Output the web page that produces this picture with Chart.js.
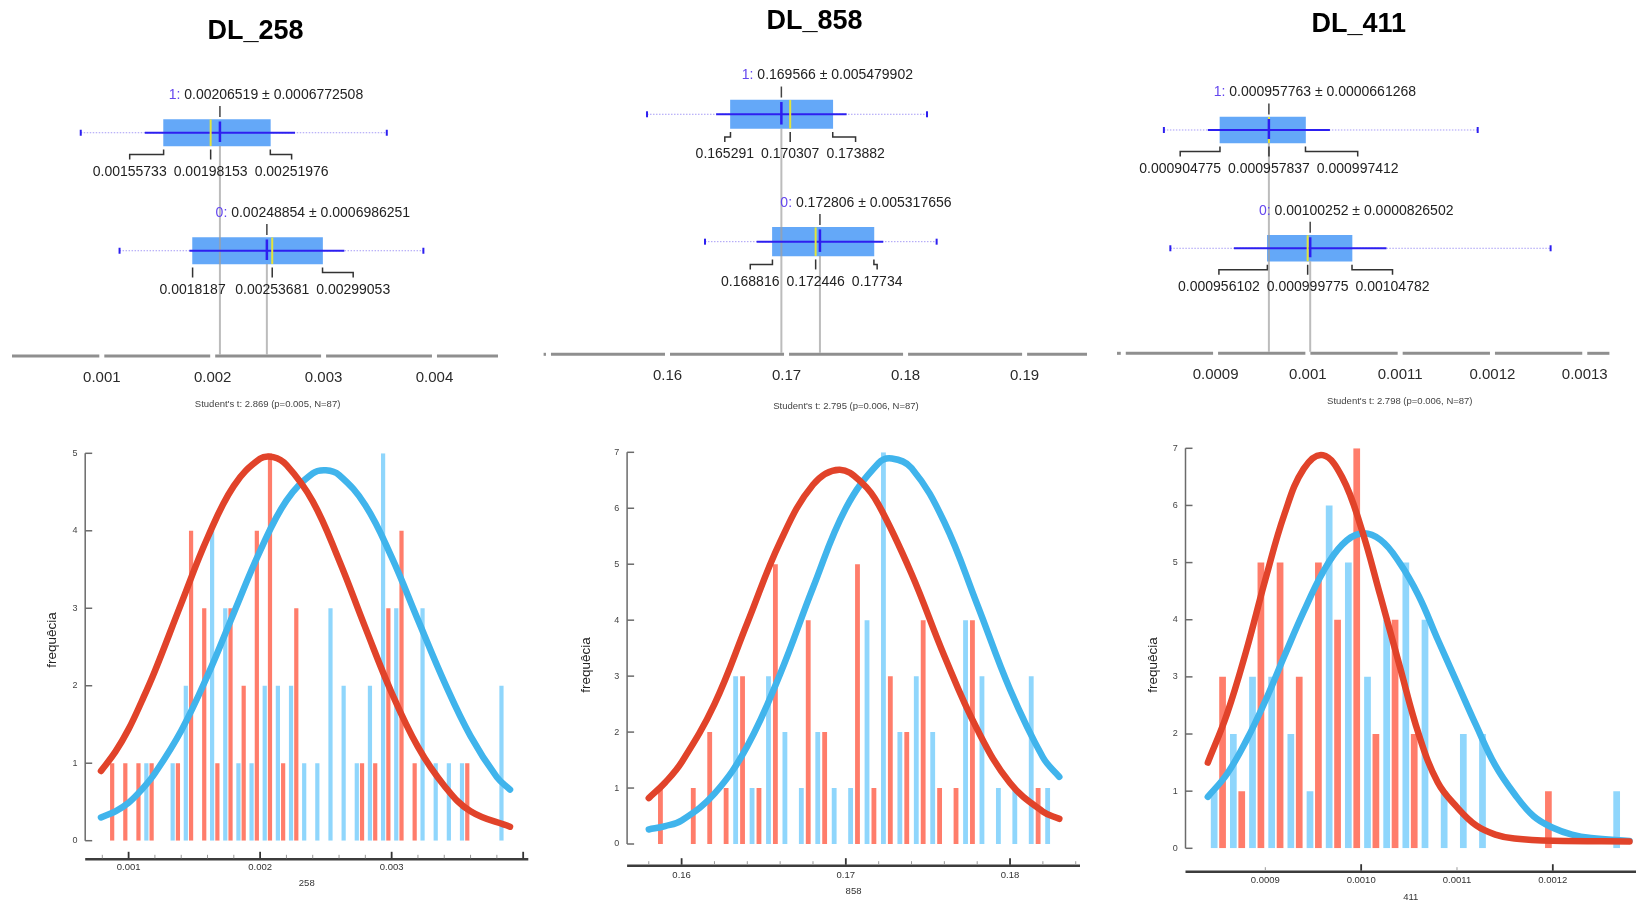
<!DOCTYPE html>
<html>
<head>
<meta charset="utf-8">
<title>DL_258 / DL_858 / DL_411</title>
<script src="https://cdn.jsdelivr.net/npm/chart.js@4.4.1/dist/chart.umd.min.js"></script>
<style>
  html, body { margin: 0; padding: 0; background: #fff; }
  #wrap { position: relative; width: 1636px; height: 905px; overflow: hidden; background: #fff; }
  #wrap canvas { position: absolute; }
</style>
</head>
<body>
<div id="wrap">
  <canvas id="box258" width="520" height="420" style="left:0px;top:0px"></canvas>
  <canvas id="box858" width="580" height="420" style="left:520px;top:0px"></canvas>
  <canvas id="box411" width="536" height="420" style="left:1100px;top:0px"></canvas>
  <canvas id="hist258" width="560" height="485" style="left:0px;top:420px"></canvas>
  <canvas id="hist858" width="550" height="485" style="left:560px;top:420px"></canvas>
  <canvas id="hist411" width="526" height="485" style="left:1110px;top:420px"></canvas>
</div>
<script>
/* eslint-disable no-undef */

// ---- data: box plots (group 1 first, then group 0) ----
const groups = ['1', '0'];

const dl258Mean = [0.00206519, 0.00248854];
const dl258Sd = [0.0006772508, 0.0006986251];
const dl258Q1 = [0.00155733, 0.0018187];
const dl258Median = [0.00198153, 0.00253681];
const dl258Q3 = [0.00251976, 0.00299053];
const dl258Min = [0.00081, 0.00116];
const dl258Max = [0.00357, 0.0039];
const dl258Ticks = [0.001, 0.002, 0.003, 0.004];
const dl258TickLabels = ['0.001', '0.002', '0.003', '0.004'];

const dl858Mean = [0.169566, 0.172806];
const dl858Sd = [0.005479902, 0.005317656];
const dl858Q1 = [0.165291, 0.168816];
const dl858Median = [0.170307, 0.172446];
const dl858Q3 = [0.173882, 0.17734];
const dl858Min = [0.15828, 0.16315];
const dl858Max = [0.1818, 0.18261];
const dl858Ticks = [0.15, 0.16, 0.17, 0.18, 0.19];
const dl858TickLabels = ['', '0.16', '0.17', '0.18', '0.19'];

const dl411Mean = [0.000957763, 0.00100252];
const dl411Sd = [0.0000661268, 0.0000826502];
const dl411Q1 = [0.000904775, 0.000956102];
const dl411Median = [0.000957837, 0.000999775];
const dl411Q3 = [0.000997412, 0.00104782];
const dl411Min = [0.000844, 0.000851];
const dl411Max = [0.001184, 0.001263];
const dl411Ticks = [0.0008, 0.0009, 0.001, 0.0011, 0.0012, 0.0013];
const dl411TickLabels = ['', '0.0009', '0.001', '0.0011', '0.0012', '0.0013'];

const tTests = [
  "Student's t: 2.869 (p=0.005, N=87)",
  "Student's t: 2.795 (p=0.006, N=87)",
  "Student's t: 2.798 (p=0.006, N=87)",
];

// ---- data: histograms (blue = group 0, red = group 1) ----
const hist258Bins = [0.000855, 0.000955, 0.001055, 0.001155, 0.001255, 0.001355, 0.001455, 0.001555,
  0.001655, 0.001755, 0.001855, 0.001955, 0.002055, 0.002155, 0.002255, 0.002355, 0.002455, 0.002555,
  0.002655, 0.002755, 0.002855, 0.002955, 0.003055, 0.003155, 0.003255, 0.003355, 0.003455, 0.003555,
  0.003655, 0.003755, 0.003855];
const hist258Blue = [0, 0, 0, 1, 0, 1, 2, 0, 4, 3, 1, 1, 2, 2, 2, 1, 1, 3, 2, 1, 2, 5, 3, 0, 3, 1, 1, 1, 0, 0, 2];
const hist258Red = [1, 1, 1, 1, 0, 1, 4, 3, 1, 3, 2, 4, 5, 1, 3, 0, 0, 0, 0, 1, 1, 3, 4, 1, 0, 0, 0, 1, 0, 0, 0];
const curve258RedX = [0.00079, 0.0009, 0.001, 0.0011, 0.0012, 0.0014, 0.0016, 0.0018, 0.002, 0.0021, 0.0022,
  0.0024, 0.0026, 0.0028, 0.003, 0.0032, 0.0034, 0.0036, 0.0039];
const curve258RedY = [0.9, 1.15, 1.44, 1.8, 2.19, 3.06, 3.91, 4.58, 4.93, 4.95, 4.85, 4.38, 3.62, 2.75, 1.91,
  1.21, 0.71, 0.38, 0.18];
const curve258BlueX = [0.00079, 0.0009, 0.001, 0.0011, 0.0012, 0.0014, 0.0016, 0.0018, 0.002, 0.0022, 0.0024,
  0.0025, 0.0026, 0.0028, 0.003, 0.0032, 0.0034, 0.0036, 0.0038, 0.0039];
const curve258BlueY = [0.3, 0.38, 0.49, 0.66, 0.87, 1.42, 2.13, 2.94, 3.74, 4.39, 4.74, 4.78, 4.72, 4.33, 3.66,
  2.85, 2.05, 1.35, 0.82, 0.66];
const hist258YTicks = [0, 1, 2, 3, 4, 5];
const hist258XTicks = [0.001, 0.002, 0.003];
const hist258XLabels = ['0.001', '0.002', '0.003'];

const hist858Bins = [0.1585, 0.1595, 0.1605, 0.1615, 0.1625, 0.1635, 0.1645, 0.1655, 0.1665, 0.1675, 0.1685,
  0.1695, 0.1705, 0.1715, 0.1725, 0.1735, 0.1745, 0.1755, 0.1765, 0.1775, 0.1785, 0.1795, 0.1805, 0.1815, 0.1825];
const hist858Blue = [0, 0, 0, 0, 0, 3, 1, 3, 2, 1, 2, 1, 1, 4, 7, 2, 3, 2, 0, 4, 3, 1, 1, 3, 1];
const hist858Red = [1, 0, 1, 2, 1, 3, 1, 5, 0, 4, 2, 0, 5, 1, 3, 2, 4, 1, 1, 4, 0, 0, 0, 1, 0];
const curve858RedX = [0.158, 0.159, 0.16, 0.162, 0.164, 0.166, 0.168, 0.1696, 0.171, 0.172, 0.174, 0.176, 0.178,
  0.18, 0.182, 0.183];
const curve858RedY = [0.82, 1.1, 1.46, 2.5, 3.95, 5.4, 6.42, 6.69, 6.45, 6.06, 4.83, 3.36, 2.05, 1.09, 0.58, 0.45];
const curve858BlueX = [0.158, 0.159, 0.16, 0.162, 0.164, 0.166, 0.168, 0.17, 0.172, 0.1728, 0.174, 0.176, 0.178,
  0.18, 0.182, 0.183];
const curve858BlueY = [0.26, 0.32, 0.42, 0.9, 1.75, 3.04, 4.58, 6.0, 6.81, 6.89, 6.72, 5.75, 4.28, 2.76, 1.55, 1.2];
const hist858YTicks = [0, 1, 2, 3, 4, 5, 6, 7];
const hist858XTicks = [0.16, 0.17, 0.18];
const hist858XLabels = ['0.16', '0.17', '0.18'];

const hist411Bins = [0.000851, 0.000871, 0.000891, 0.000911, 0.000931, 0.000951, 0.000971, 0.000991, 0.001011,
  0.001031, 0.001051, 0.001071, 0.001091, 0.001111, 0.001131, 0.001151, 0.001171, 0.001191, 0.001211, 0.001231,
  0.001251, 0.001271];
const hist411Blue = [1, 2, 3, 3, 2, 1, 6, 5, 3, 4, 5, 4, 1, 2, 2, 0, 0, 0, 0, 0, 0, 1];
const hist411Red = [3, 1, 5, 5, 3, 5, 4, 7, 2, 4, 2, 0, 0, 0, 0, 0, 0, 1, 0, 0, 0, 0];
const curve411RedX = [0.00084, 0.00086, 0.00088, 0.0009, 0.00092, 0.00094, 0.00096, 0.00098, 0.001, 0.00102,
  0.00104, 0.00106, 0.00108, 0.0011, 0.00112, 0.00114, 0.00116, 0.0012, 0.00128];
const curve411RedY = [1.5, 2.35, 3.45, 4.7, 5.85, 6.64, 6.88, 6.5, 5.61, 4.42, 3.2, 2.0, 1.15, 0.72, 0.4, 0.24, 0.17, 0.13, 0.12];
const curve411BlueX = [0.00084, 0.00086, 0.00088, 0.0009, 0.00092, 0.00094, 0.00096, 0.00098, 0.001, 0.00102,
  0.00104, 0.00106, 0.00108, 0.0011, 0.00112, 0.00114, 0.00116, 0.00118, 0.0012, 0.00122, 0.00124, 0.00128];
const curve411BlueY = [0.9, 1.3, 1.88, 2.58, 3.37, 4.14, 4.83, 5.31, 5.51, 5.4, 5.0, 4.42, 3.65, 2.9, 2.15, 1.45,
  0.95, 0.56, 0.36, 0.24, 0.18, 0.13];
const hist411YTicks = [0, 1, 2, 3, 4, 5, 6, 7];
const hist411XTicks = [0.0009, 0.001, 0.0011, 0.0012];
const hist411XLabels = ['0.0009', '0.0010', '0.0011', '0.0012'];

// ---- styling ----
const FONT = '"Liberation Sans", Arial, sans-serif';
const BOX_FILL = '#64a8f8';
const WHISKER = '#2d1ff0';
const DOTTED = '#a79cf6';
const MEDIAN = '#e4e43a';
const PREFIX = '#6446ee';
const RED_BAR = '#ff7d6b';
const BLUE_BAR = '#8fd6fc';
const RED_LINE = '#e1432a';
const BLUE_LINE = '#40b4ec';

function line(ctx, x1, y1, x2, y2) {
  ctx.beginPath();
  ctx.moveTo(x1, y1);
  ctx.lineTo(x2, y2);
  ctx.stroke();
}

// bracket from a box edge down to its (possibly shifted) value label
function bracket(ctx, fromX, toX, yBox) {
  ctx.beginPath();
  ctx.moveTo(fromX, yBox + 3.5);
  ctx.lineTo(fromX, yBox + 8.5);
  ctx.lineTo(toX, yBox + 8.5);
  ctx.lineTo(toX, yBox + 13.5);
  ctx.stroke();
}

function boxDecor(s) {
  return {
    id: 'boxDecor',
    afterDatasetsDraw(chart) {
      const { ctx, chartArea: a, scales: { x, y } } = chart;
      const px = (v) => x.getPixelForValue(v);
      const half = s.boxH / 2;
      ctx.save();

      // axis: grey line broken at every tick
      ctx.strokeStyle = '#8f8f8f';
      ctx.lineWidth = 3;
      let from = a.left;
      s.ticks.map(px).concat([a.right + 10]).forEach((t) => {
        const to = Math.min(t - 2.5, a.right);
        if (to > from) line(ctx, from, a.bottom, to, a.bottom);
        from = Math.max(from, t + 2.5);
      });

      // grey guide from each box down to the axis at the mean
      ctx.strokeStyle = 'rgba(160,160,160,0.7)';
      ctx.lineWidth = 2;
      s.groups.forEach((g, i) => {
        const yc = y.getPixelForValue(Number(g));
        line(ctx, px(s.mean[i]), yc + half, px(s.mean[i]), a.bottom - 1.5);
      });

      s.groups.forEach((g, i) => {
        const yc = y.getPixelForValue(Number(g));
        const top = yc - half;
        const bot = yc + half;
        const mx = px(s.mean[i]);

        // min-max dotted whisker with caps
        ctx.setLineDash([1.5, 1.5]);
        ctx.strokeStyle = DOTTED;
        ctx.lineWidth = 1;
        line(ctx, px(s.min[i]), yc, px(s.max[i]), yc);
        ctx.setLineDash([]);
        ctx.strokeStyle = WHISKER;
        ctx.lineWidth = 2;
        line(ctx, px(s.min[i]), yc - 3, px(s.min[i]), yc + 3);
        line(ctx, px(s.max[i]), yc - 3, px(s.max[i]), yc + 3);

        // mean +/- sd
        line(ctx, px(s.mean[i] - s.sd[i]), yc, px(s.mean[i] + s.sd[i]), yc);

        // median (yellow) and mean marker (blue)
        ctx.strokeStyle = MEDIAN;
        ctx.lineWidth = 2;
        line(ctx, px(s.median[i]), top, px(s.median[i]), bot);
        ctx.strokeStyle = WHISKER;
        ctx.lineWidth = 2.5;
        line(ctx, mx, top + 2, mx, bot - 4);

        // mean tick + label above the box
        ctx.strokeStyle = '#444';
        ctx.lineWidth = 1.5;
        line(ctx, mx, top - 13.5, mx, top - 2.5);
        ctx.font = `14px ${FONT}`;
        ctx.textBaseline = 'middle';
        ctx.textAlign = 'left';
        const pre = `${g}: `;
        const rest = `${s.mean[i]} \u00b1 ${s.sd[i]}`;
        const wPre = ctx.measureText(pre).width;
        const wAll = wPre + ctx.measureText(rest).width;
        const lx = mx + 46 - wAll / 2;
        ctx.fillStyle = PREFIX;
        ctx.fillText(pre, lx, top - 24.5);
        ctx.fillStyle = '#222';
        ctx.fillText(rest, lx + wPre, top - 24.5);

        // quartile labels below the box
        ctx.textAlign = 'center';
        const q1T = String(s.q1[i]);
        const mdT = String(s.median[i]);
        const q3T = String(s.q3[i]);
        const w1 = ctx.measureText(q1T).width;
        const wm = ctx.measureText(mdT).width;
        const w3 = ctx.measureText(q3T).width;
        const q1x = px(s.q1[i]);
        const mdx = px(s.median[i]);
        const q3x = px(s.q3[i]);
        const gap = 7;
        const c1 = Math.min(q1x, mdx - wm / 2 - gap - w1 / 2);
        const c3 = Math.max(q3x, mdx + wm / 2 + gap + w3 / 2);
        ctx.strokeStyle = '#333';
        ctx.lineWidth = 1.5;
        bracket(ctx, q1x, c1, bot);
        bracket(ctx, mdx, mdx, bot);
        bracket(ctx, q3x, c3, bot);
        ctx.fillText(q1T, c1, bot + 26);
        ctx.fillText(mdT, mdx, bot + 26);
        ctx.fillText(q3T, c3, bot + 26);
      });

      // tick labels
      ctx.textAlign = 'center';
      ctx.textBaseline = 'middle';
      ctx.font = `15px ${FONT}`;
      ctx.fillStyle = '#2a2a2a';
      s.ticks.forEach((v, i) => {
        if (s.tickLabels[i]) ctx.fillText(s.tickLabels[i], px(v), a.bottom + 21.5);
      });

      ctx.font = `9.5px ${FONT}`;
      ctx.fillStyle = '#444';
      ctx.fillText(s.tTest, s.tX, s.tY);

      ctx.font = `bold 27px ${FONT}`;
      ctx.fillStyle = '#000';
      ctx.fillText(s.title, s.titleX, s.titleY);
      ctx.restore();
    },
  };
}

function boxChart(id, s) {
  return new Chart(document.getElementById(id), {
    type: 'bar',
    data: {
      datasets: [
        {
          data: s.groups.map((g, i) => ({ x: [s.q1[i], s.q3[i]], y: Number(g) })),
          backgroundColor: BOX_FILL,
          borderWidth: 0,
          barThickness: s.boxH,
        },
      ],
    },
    options: {
      indexAxis: 'y',
      responsive: false,
      animation: false,
      events: [],
      layout: { padding: s.pad },
      scales: {
        x: { type: 'linear', min: s.xMin, max: s.xMax, bounds: 'data', offset: false, display: false },
        y: { type: 'linear', min: s.yMin, max: s.yMax, bounds: 'data', offset: false, display: false },
      },
      plugins: { legend: { display: false }, tooltip: { enabled: false } },
    },
    plugins: [boxDecor(s)],
  });
}

function histDecor(s) {
  return {
    id: 'histDecor',
    afterDraw(chart) {
      const { ctx, chartArea: a, scales: { x, y } } = chart;
      const y0 = y.getPixelForValue(0);
      const yTop = y.getPixelForValue(s.yTicks[s.yTicks.length - 1]);
      ctx.save();

      // y axis with inward ticks
      ctx.strokeStyle = '#6b6b6b';
      ctx.lineWidth = 1.5;
      line(ctx, a.left, yTop, a.left, y0);
      ctx.font = `9px ${FONT}`;
      ctx.fillStyle = '#444';
      ctx.textAlign = 'center';
      ctx.textBaseline = 'middle';
      s.yTicks.forEach((v) => {
        const py = y.getPixelForValue(v);
        line(ctx, a.left, py, a.left + 7, py);
        ctx.fillText(String(v), a.left - 10.3, py);
      });

      // x axis sits below the bars
      const ax = y0 + s.axisGap;
      ctx.strokeStyle = '#3c3c3c';
      ctx.lineWidth = 2.5;
      line(ctx, a.left, ax, a.right, ax);
      ctx.strokeStyle = '#9a9a9a';
      ctx.lineWidth = 1;
      const k0 = Math.ceil(x.min / s.minorStep - 1e-6);
      const k1 = Math.floor(x.max / s.minorStep + 1e-6);
      for (let k = k0; k <= k1; k++) {
        const v = k * s.minorStep;
        if (s.majorTicks.some((m) => Math.abs(m - v) < s.minorStep / 10)) continue;
        const tx = x.getPixelForValue(v);
        line(ctx, tx, ax - 1, tx, ax - 4.5);
      }
      ctx.strokeStyle = '#333';
      ctx.lineWidth = 1.8;
      s.majorTicks.forEach((v) => {
        const tx = x.getPixelForValue(v);
        line(ctx, tx, ax - 1, tx, ax - 7.5);
      });
      ctx.font = `9.5px ${FONT}`;
      ctx.fillStyle = '#333';
      s.xTicks.forEach((v, i) => ctx.fillText(s.xLabels[i], x.getPixelForValue(v), ax + s.labelGap));
      ctx.fillText(s.xTitle, (a.left + a.right) / 2, ax + s.titleGap);

      ctx.font = `13.5px ${FONT}`;
      ctx.fillStyle = '#222';
      ctx.translate(s.yTitleX, s.yTitleY);
      ctx.rotate(-Math.PI / 2);
      ctx.fillText('frequêcia', 0, 0);
      ctx.restore();
    },
  };
}

function histChart(id, s) {
  const pts = (xs, ys) => xs.map((v, i) => ({ x: v, y: ys[i] }));
  const curve = {
    type: 'line',
    borderWidth: 6.5,
    pointRadius: 0,
    tension: 0.4,
    borderCapStyle: 'round',
    borderJoinStyle: 'round',
    clip: false,
  };
  return new Chart(document.getElementById(id), {
    type: 'bar',
    data: {
      datasets: [
        { ...curve, data: pts(s.redX, s.redY), borderColor: RED_LINE, order: 0 },
        { ...curve, data: pts(s.blueX, s.blueY), borderColor: BLUE_LINE, order: 1 },
        {
          data: pts(s.bins, s.blue),
          backgroundColor: BLUE_BAR,
          order: 2,
          categoryPercentage: s.cp,
          barPercentage: s.bp,
        },
        {
          data: pts(s.bins, s.red),
          backgroundColor: RED_BAR,
          order: 3,
          categoryPercentage: s.cp,
          barPercentage: s.bp,
        },
      ],
    },
    options: {
      responsive: false,
      animation: false,
      events: [],
      layout: { padding: s.pad },
      scales: {
        x: {
          type: 'linear',
          min: s.xMin,
          max: s.xMax,
          bounds: 'data',
          offset: false,
          display: false,
          afterBuildTicks: (scale) => {
            scale.ticks = s.majorTicks.map((v) => ({ value: v }));
          },
        },
        y: { type: 'linear', min: 0, max: s.yTicks[s.yTicks.length - 1], bounds: 'data', display: false },
      },
      plugins: { legend: { display: false }, tooltip: { enabled: false } },
    },
    plugins: [histDecor(s)],
  });
}

// ---- top row ----
boxChart('box258', {
  title: 'DL_258', titleX: 255.5, titleY: 31.7, tTest: tTests[0], tX: 267.6, tY: 404.3,
  groups, mean: dl258Mean, sd: dl258Sd, q1: dl258Q1, median: dl258Median, q3: dl258Q3,
  min: dl258Min, max: dl258Max, ticks: dl258Ticks, tickLabels: dl258TickLabels,
  pad: { left: 12, right: 22, top: 0, bottom: 64 },
  xMin: 0.00019, xMax: 0.004573, yMin: -0.892, yMax: 2.125, boxH: 26.5,
});

boxChart('box858', {
  title: 'DL_858', titleX: 294.6, titleY: 21.7, tTest: tTests[1], tX: 326, tY: 406.7,
  groups, mean: dl858Mean, sd: dl858Sd, q1: dl858Q1, median: dl858Median, q3: dl858Q3,
  min: dl858Min, max: dl858Max, ticks: dl858Ticks, tickLabels: dl858TickLabels,
  pad: { left: 23.6, right: 13, top: 0, bottom: 65.7 },
  xMin: 0.149591, xMax: 0.195242, yMin: -0.884, yMax: 1.897, boxH: 28.5,
});

boxChart('box411', {
  title: 'DL_411', titleX: 258.8, titleY: 25, tTest: tTests[2], tX: 299.8, tY: 401.7,
  groups, mean: dl411Mean, sd: dl411Sd, q1: dl411Q1, median: dl411Median, q3: dl411Q3,
  min: dl411Min, max: dl411Max, ticks: dl411Ticks, tickLabels: dl411TickLabels,
  pad: { left: 17, right: 26.6, top: 0, bottom: 66.7 },
  xMin: 0.0007932, xMax: 0.0013267, yMin: -0.888, yMax: 2.099, boxH: 26,
});

// ---- bottom row ----
histChart('hist258', {
  bins: hist258Bins, blue: hist258Blue, red: hist258Red,
  redX: curve258RedX, redY: curve258RedY, blueX: curve258BlueX, blueY: curve258BlueY,
  yTicks: hist258YTicks, xTicks: hist258XTicks, xLabels: hist258XLabels, xTitle: '258',
  majorTicks: [0.001, 0.002, 0.003, 0.004], minorStep: 0.0002,
  pad: { left: 85.2, right: 31.7, top: 33.3, bottom: 64.3 },
  xMin: 0.00067, xMax: 0.004039, cp: 0.8, bp: 0.8,
  axisGap: 18.6, labelGap: 8.4, titleGap: 24, yTitleX: 52.1, yTitleY: 220,
});

histChart('hist858', {
  bins: hist858Bins, blue: hist858Blue, red: hist858Red,
  redX: curve858RedX, redY: curve858RedY, blueX: curve858BlueX, blueY: curve858BlueY,
  yTicks: hist858YTicks, xTicks: hist858XTicks, xLabels: hist858XLabels, xTitle: '858',
  majorTicks: [0.16, 0.17, 0.18], minorStep: 0.002,
  pad: { left: 67.1, right: 30, top: 32.3, bottom: 61 },
  xMin: 0.15668, xMax: 0.18426, cp: 0.84, bp: 0.7,
  axisGap: 21.7, labelGap: 9.3, titleGap: 26, yTitleX: 25.8, yTitleY: 245,
});

histChart('hist411', {
  bins: hist411Bins, blue: hist411Blue, red: hist411Red,
  redX: curve411RedX, redY: curve411RedY, blueX: curve411BlueX, blueY: curve411BlueY,
  yTicks: hist411YTicks, xTicks: hist411XTicks, xLabels: hist411XLabels, xTitle: '411',
  majorTicks: [0.001, 0.0012], minorStep: 0.0001,
  pad: { left: 75.5, right: 0, top: 28.3, bottom: 56.7 },
  xMin: 0.0008167, xMax: 0.0012868, cp: 0.876, bp: 0.8,
  axisGap: 23.4, labelGap: 9, titleGap: 25.6, yTitleX: 43.6, yTitleY: 245,
});
</script>
</body>
</html>
